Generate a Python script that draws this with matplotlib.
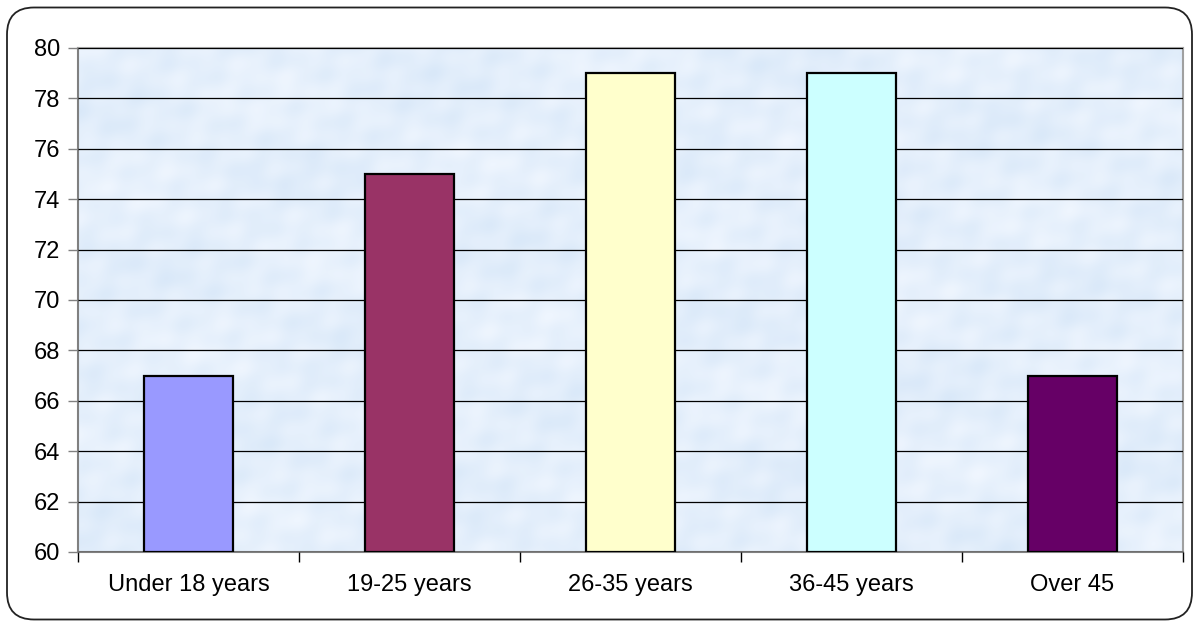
import matplotlib

matplotlib.use("Agg")
import matplotlib.pyplot as plt
import numpy as np
from matplotlib.patches import FancyBboxPatch


AGE_GROUPS = ["Under 18 years", "19-25 years", "26-35 years", "36-45 years", "Over 45"]
SCORES = [67, 75, 79, 79, 67]
BAR_COLORS = ["#9999FF", "#993366", "#FFFFCC", "#CCFFFF", "#660066"]
Y_TICKS = list(range(60, 81, 2))


def mottled_background(axis, extent):
    # soft blue paper-like fill behind the bars
    yy, xx = np.mgrid[0:252, 0:552]
    pattern = (
        np.sin(xx * 0.23 + yy * 0.17)
        + np.sin(xx * 0.11 - yy * 0.29 + 1.3)
        + np.sin(xx * 0.47 + yy * 0.07 + 2.1) * 0.5
        + np.sin(xx * 0.13 + yy * 0.53 + 0.4) * 0.5
        + np.sin(xx * 0.04 + yy * 0.06 + 2.7) * 0.9
        + np.sin(xx * 0.03 - yy * 0.09 + 0.8) * 0.9
    )
    pattern = (pattern - pattern.min()) / (pattern.max() - pattern.min())
    base = np.array([0.85, 0.91, 0.975])
    light = np.array([0.94, 0.965, 0.998])
    rgb = base[None, None, :] + (light - base)[None, None, :] * pattern[:, :, None]
    axis.imshow(rgb, extent=extent, aspect="auto", zorder=0, interpolation="bilinear")


def main():
    plt.rcParams["font.family"] = ["Liberation Sans", "DejaVu Sans"]

    fig = plt.figure(figsize=(11.97, 6.24), dpi=100)
    # rounded outer frame, laid out in inches
    frame = FancyBboxPatch(
        (0.07, 0.045),
        11.85,
        6.12,
        boxstyle="round,pad=0,rounding_size=0.27",
        transform=fig.dpi_scale_trans,
        facecolor="none",
        edgecolor="#222222",
        linewidth=1.3,
        zorder=5,
    )
    fig.patches.append(frame)

    axis = fig.add_axes((78 / 1197, 72 / 624, 1105 / 1197, 504 / 624))
    x = np.arange(len(AGE_GROUPS))

    mottled_background(axis, (-0.5, 4.5, 60, 80))
    axis.bar(
        x,
        np.array(SCORES) - 60,
        bottom=60,
        width=0.4,
        color=BAR_COLORS,
        edgecolor="black",
        linewidth=1.6,
        zorder=3,
    )

    axis.set_xlim(-0.5, 4.5)
    axis.set_ylim(60, 80)
    axis.set_yticks(Y_TICKS)
    axis.yaxis.grid(True, color="black", linewidth=0.9)
    axis.set_axisbelow(False)

    axis.set_xticks(x)
    axis.set_xticklabels(AGE_GROUPS)
    axis.set_xticks(np.arange(-0.5, 5, 1.0), minor=True)
    axis.tick_params(axis="x", which="major", length=0, pad=16, labelsize=17)
    axis.tick_params(axis="x", which="minor", length=7, width=1.0, color="black")
    axis.tick_params(axis="y", length=7, width=1.0, color="#808080", labelsize=17, pad=6)

    for side in ["top", "right"]:
        axis.spines[side].set_color("#a0a0a0")
        axis.spines[side].set_linewidth(1.5)
    for side in ["left", "bottom"]:
        axis.spines[side].set_color("#808080")
        axis.spines[side].set_linewidth(1.5)
    for line in axis.get_ygridlines():
        line.set_zorder(1)

    fig.savefig("out.png", dpi=100)
    plt.close(fig)


if __name__ == "__main__":
    main()
